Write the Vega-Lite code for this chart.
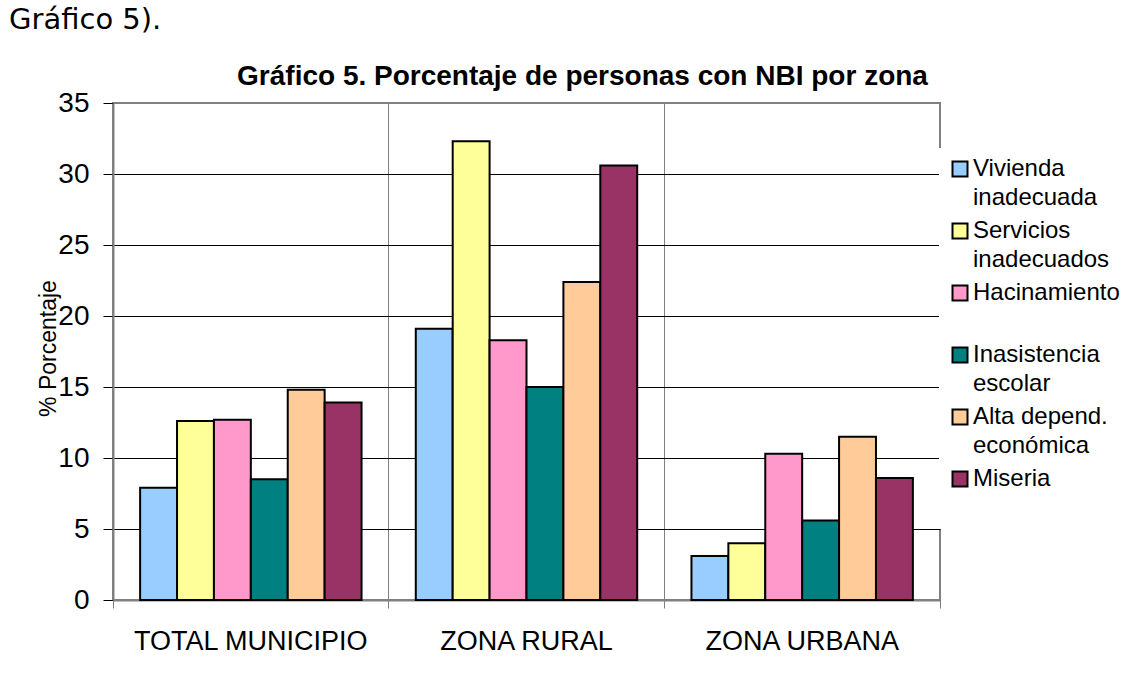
{
  "$schema": "https://vega.github.io/schema/vega-lite/v6.json",
  "width": 827,
  "height": 497,
  "autosize": "none",
  "padding": {"left": 113, "top": 103, "right": 201, "bottom": 80},
  "background": "white",
  "title": {
    "text": "Gráfico 5).",
    "anchor": "start",
    "frame": "bounds",
    "font": "DejaVu Sans",
    "fontSize": 29,
    "fontWeight": "normal",
    "color": "black",
    "baseline": "alphabetic",
    "offset": 34,
    "dx": -28,
    "dy": 30
  },
  "data": {
    "values": [
      {"zona": "TOTAL MUNICIPIO", "tipo": "Vivienda inadecuada", "valor": 7.9},
      {"zona": "TOTAL MUNICIPIO", "tipo": "Servicios inadecuados", "valor": 12.6},
      {"zona": "TOTAL MUNICIPIO", "tipo": "Hacinamiento", "valor": 12.7},
      {"zona": "TOTAL MUNICIPIO", "tipo": "Inasistencia escolar", "valor": 8.5},
      {"zona": "TOTAL MUNICIPIO", "tipo": "Alta depend. económica", "valor": 14.8},
      {"zona": "TOTAL MUNICIPIO", "tipo": "Miseria", "valor": 13.9},
      {"zona": "ZONA RURAL", "tipo": "Vivienda inadecuada", "valor": 19.1},
      {"zona": "ZONA RURAL", "tipo": "Servicios inadecuados", "valor": 32.3},
      {"zona": "ZONA RURAL", "tipo": "Hacinamiento", "valor": 18.3},
      {"zona": "ZONA RURAL", "tipo": "Inasistencia escolar", "valor": 15.0},
      {"zona": "ZONA RURAL", "tipo": "Alta depend. económica", "valor": 22.4},
      {"zona": "ZONA RURAL", "tipo": "Miseria", "valor": 30.6},
      {"zona": "ZONA URBANA", "tipo": "Vivienda inadecuada", "valor": 3.1},
      {"zona": "ZONA URBANA", "tipo": "Servicios inadecuados", "valor": 4.0},
      {"zona": "ZONA URBANA", "tipo": "Hacinamiento", "valor": 10.3},
      {"zona": "ZONA URBANA", "tipo": "Inasistencia escolar", "valor": 5.6},
      {"zona": "ZONA URBANA", "tipo": "Alta depend. económica", "valor": 11.5},
      {"zona": "ZONA URBANA", "tipo": "Miseria", "valor": 8.6}
    ]
  },
  "layer": [
    {
      "mark": {"type": "bar", "stroke": "black", "strokeWidth": 2},
      "encoding": {
        "x": {
          "field": "zona",
          "type": "nominal",
          "sort": ["TOTAL MUNICIPIO", "ZONA RURAL", "ZONA URBANA"],
          "scale": {"paddingInner": 0, "paddingOuter": 0},
          "axis": {
            "title": null,
            "labelAngle": 0,
            "bandPosition": 1,
            "tickExtra": true,
            "grid": true,
            "gridColor": "#808080",
            "gridWidth": 1,
            "ticks": true,
            "tickColor": "#808080",
            "tickSize": 8,
            "tickWidth": 1,
            "domainColor": "#808080",
            "domainWidth": 2,
            "labelFont": "Liberation Sans",
            "labelFontSize": 27,
            "labelColor": "black",
            "labelPadding": 20,
            "labelLimit": 400
          }
        },
        "xOffset": {
          "field": "tipo",
          "type": "nominal",
          "sort": ["Vivienda inadecuada", "Servicios inadecuados", "Hacinamiento", "Inasistencia escolar", "Alta depend. económica", "Miseria"],
          "scale": {"paddingInner": 0, "paddingOuter": 0.735}
        },
        "y": {
          "field": "valor",
          "type": "quantitative",
          "scale": {"domain": [0, 35], "nice": false},
          "axis": {
            "values": [0, 5, 10, 15, 20, 25, 30, 35],
            "title": "% Porcentaje",
            "grid": true,
            "gridColor": {"condition": {"test": "datum.value === 35", "value": "#808080"}, "value": "black"},
            "gridWidth": 1,
            "tickSize": 10,
            "tickColor": "black",
            "tickWidth": 1,
            "domainColor": "#808080",
            "domainWidth": 2,
            "labelFont": "Liberation Sans",
            "labelFontSize": 28,
            "labelColor": "black",
            "labelPadding": 14,
            "titleFont": "Liberation Sans",
            "titleFontSize": 23,
            "titleFontWeight": "normal",
            "titleColor": "black",
            "titleX": -65,
            "titleY": 245,
            "titleAngle": -90,
            "titleAlign": "center",
            "titleBaseline": "middle"
          }
        },
        "fill": {
          "field": "tipo",
          "type": "nominal",
          "scale": {
            "domain": ["Vivienda inadecuada", "Servicios inadecuados", "Hacinamiento", "Inasistencia escolar", "Alta depend. económica", "Miseria"],
            "range": ["#99CCFF", "#FFFF99", "#FF99CC", "#008080", "#FFCC99", "#993366"]
          },
          "legend": {
            "title": null,
            "orient": "none",
            "legendX": 826,
            "legendY": 45,
            "padding": 9,
            "fillColor": "white",
            "symbolType": "square",
            "symbolSize": 225,
            "symbolStrokeColor": "black",
            "symbolStrokeWidth": 2,
            "labelFont": "Liberation Sans",
            "labelFontSize": 24,
            "labelColor": "black",
            "labelOffset": 1,
            "labelLimit": 300,
            "rowPadding": 9,
            "labelExpr": "datum.label === 'Vivienda inadecuada' ? ['Vivienda', 'inadecuada'] : datum.label === 'Servicios inadecuados' ? ['Servicios', 'inadecuados'] : datum.label === 'Inasistencia escolar' ? ['Inasistencia', 'escolar'] : datum.label === 'Alta depend. económica' ? ['Alta depend.', 'económica'] : [datum.label, ' ']",
            "labelBaseline": "top",
            "encode": {"labels": {"update": {"lineHeight": {"value": 29}, "dy": {"value": -12}}}}
          }
        }
      }
    },
    {
      "mark": {"type": "tick", "opacity": 0},
      "encoding": {
        "x": {
          "field": "zona",
          "type": "nominal",
          "sort": ["TOTAL MUNICIPIO", "ZONA RURAL", "ZONA URBANA"],
          "axis": {
            "orient": "top",
            "title": "Gráfico 5. Porcentaje de personas con NBI por zona",
            "domain": false,
            "ticks": false,
            "labels": false,
            "grid": false,
            "titleFont": "Liberation Sans",
            "titleFontSize": 28,
            "titleFontWeight": "bold",
            "titleColor": "black",
            "titleX": 469,
            "titleY": -27,
            "titleBaseline": "middle",
            "titleAlign": "center",
            "titleAngle": 0
          }
        },
        "y": {"field": "valor", "type": "quantitative"}
      }
    }
  ],
  "resolve": {"axis": {"x": "independent"}},
  "config": {
    "view": {"stroke": "#808080", "strokeWidth": 2}
  }
}
